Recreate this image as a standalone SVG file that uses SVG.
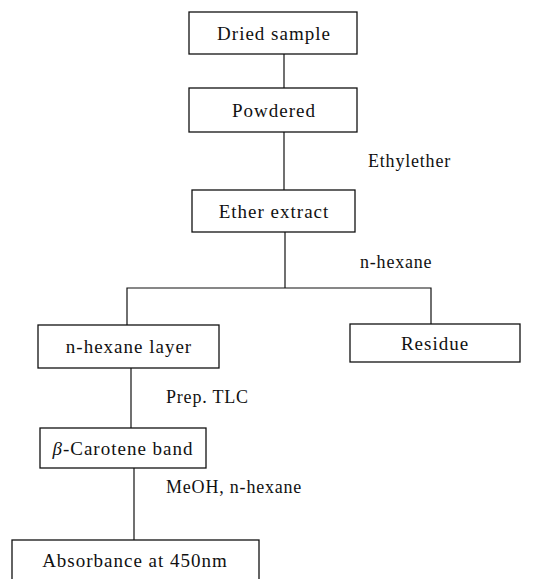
<svg xmlns="http://www.w3.org/2000/svg" width="538" height="579" viewBox="0 0 538 579">
<style>
.box{fill:#fff;stroke:#111;stroke-width:1.3}
.t{font-family:"Liberation Serif","Times New Roman",serif;font-size:19px;fill:#111;letter-spacing:1px}
.lbl{font-family:"Liberation Serif","Times New Roman",serif;font-size:18px;fill:#111;letter-spacing:0.8px}
.c{fill:none;stroke:#111;stroke-width:1.2}
</style>
<rect width="538" height="579" fill="#fff"/>
<g id="connectors">
<line class="c" x1="284" y1="54" x2="284" y2="88"/>
<line class="c" x1="284" y1="132" x2="284" y2="190"/>
<line class="c" x1="285" y1="232" x2="285" y2="288"/>
<polyline class="c" points="127,325 127,288 431,288 431,324"/>
<line class="c" x1="131" y1="368" x2="131" y2="428"/>
<line class="c" x1="134" y1="468" x2="134" y2="540"/>
</g>
<g id="lbl-ethylether"><text class="lbl" x="368" y="167">Ethylether</text></g>
<g id="lbl-nhexane"><text class="lbl" x="360" y="268">n-hexane</text></g>
<g id="lbl-prep"><text class="lbl" x="166" y="403">Prep. TLC</text></g>
<g id="lbl-meoh"><text class="lbl" x="166" y="493">MeOH, n-hexane</text></g>
<g id="dried"><rect class="box" x="189" y="12" width="168" height="42"/><text class="t" x="274" y="40" text-anchor="middle">Dried sample</text></g>
<g id="powdered"><rect class="box" x="189" y="88" width="168" height="44"/><text class="t" x="274" y="117" text-anchor="middle">Powdered</text></g>
<g id="ether"><rect class="box" x="192" y="190" width="163" height="42"/><text class="t" x="274" y="218" text-anchor="middle">Ether extract</text></g>
<g id="layer"><rect class="box" x="38" y="325" width="181" height="43"/><text class="t" x="129" y="353" text-anchor="middle">n-hexane layer</text></g>
<g id="residue"><rect class="box" x="350" y="324" width="170" height="38"/><text class="t" x="435" y="350" text-anchor="middle">Residue</text></g>
<g id="carotene"><rect class="box" x="40" y="428" width="166" height="40"/><text class="t" x="123" y="455" text-anchor="middle"><tspan font-style="italic">β</tspan>-Carotene band</text></g>
<g id="absorbance"><rect class="box" x="12" y="540" width="247" height="45"/><text class="t" x="135" y="567" text-anchor="middle">Absorbance at 450nm</text></g>
</svg>
